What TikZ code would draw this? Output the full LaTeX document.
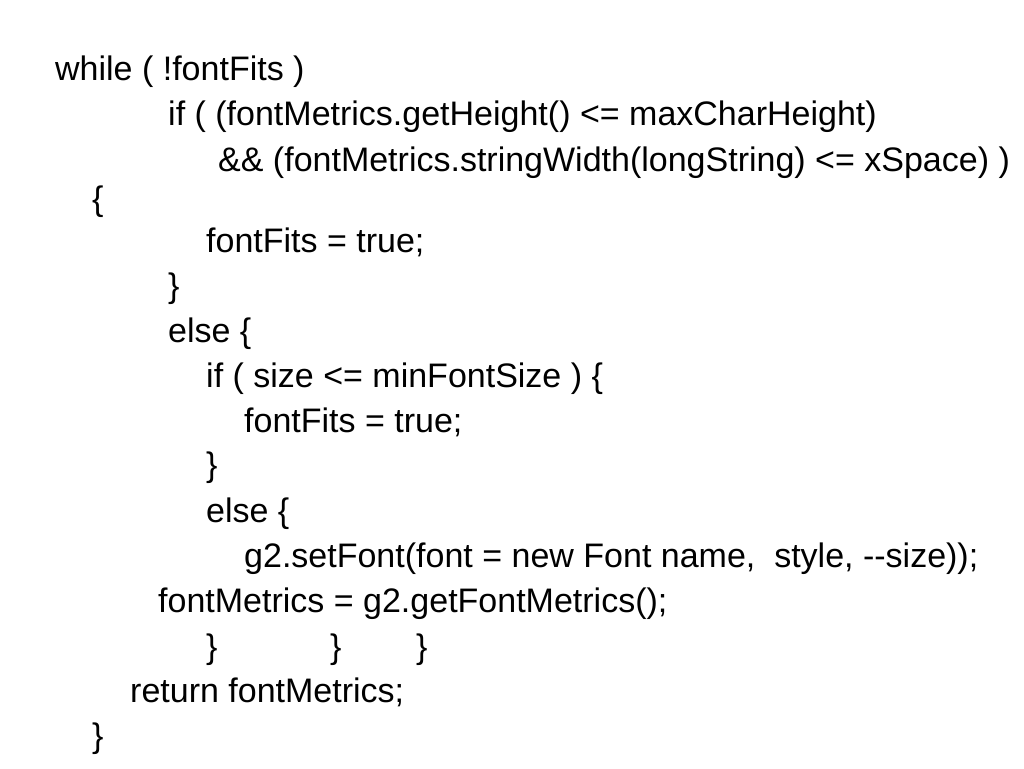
\documentclass[tikz,border=0pt]{standalone}
\usepackage{fontspec}
\setmainfont{Liberation Sans}
\begin{document}
\begin{tikzpicture}[x=1pt,y=-1pt,
  code/.style={anchor=base west,inner sep=0pt,font=\fontsize{34}{40}\selectfont}]
\useasboundingbox[fill=white] (0,0) rectangle (1024,768);
\node[code] (l0) at (55,80) {while ( !fontFits )};
\node[code] (l1) at (168,125) {if ( (fontMetrics.getHeight() <= maxCharHeight)};
\node[code] (l2) at (218,171) {\&\& (fontMetrics.stringWidth(longString) <= xSpace) )};
\node[code] (l3) at (92,210) {\{};
\node[code] (l4) at (206,252) {fontFits = true;};
\node[code] (l5) at (168,297) {\}};
\node[code] (l6) at (168,342) {else \{};
\node[code] (l7) at (206,387) {if ( size <= minFontSize ) \{};
\node[code] (l8) at (244,432) {fontFits = true;};
\node[code] (l9) at (206,476) {\}};
\node[code] (l10) at (206,522) {else \{};
\node[code] (l11) at (244,567) {g2.setFont(font = new Font name,\ \ style, -{}-size));};
\node[code] (l12) at (158,612) {fontMetrics = g2.getFontMetrics();};
\node[code] (l13a) at (206,658) {\}};
\node[code] (l13b) at (330,658) {\}};
\node[code] (l13c) at (416,658) {\}};
\node[code] (l14) at (130,702) {return fontMetrics;};
\node[code] (l15) at (92,747) {\}};
\end{tikzpicture}
\end{document}
